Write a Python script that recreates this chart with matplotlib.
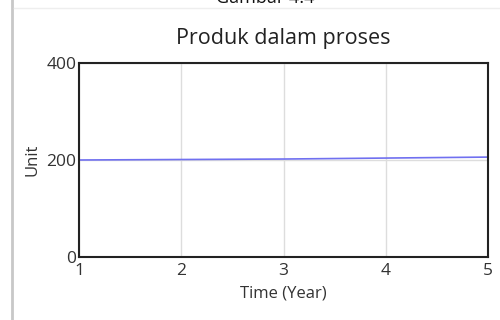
import matplotlib
matplotlib.use("Agg")
import matplotlib.pyplot as plt
from matplotlib.lines import Line2D

plt.rcParams['font.family'] = ['Open Sans', 'DejaVu Sans']

# data
years = [1, 2, 3, 4, 5]
produk = [200, 201, 202, 204, 206]
xticks = [1, 2, 3, 4, 5]
yticks = [0, 200, 400]

fig = plt.figure(figsize=(5, 3.2), dpi=100)
ax = fig.add_axes([79/500, 1 - 257/320, (488-79)/500, (257-63)/320])

ax.plot(years, produk, color="#7070f0", lw=1.2)

ax.set_xlim(1, 5)
ax.set_ylim(0, 400)
ax.set_xticks(xticks)
ax.set_yticks(yticks)
ax.grid(True, color="#dddddd", lw=1)
ax.set_axisbelow(True)
for s in ax.spines.values():
    s.set_color("#222222")
    s.set_linewidth(1.5)
ax.tick_params(length=0, labelsize=12.5, colors="#333333", pad=2)
ax.tick_params(axis="x", pad=4)

ax.set_title("Produk dalam proses", fontsize=15.5, color="#222222", pad=14)
ax.set_xlabel("Time (Year)", fontsize=12, color="#333333", labelpad=5)
ax.set_ylabel("Unit", fontsize=12, color="#333333", labelpad=4)

# page border remnants from the screenshot
fig.add_artist(Line2D([12/500, 12/500], [0, 1], color="#c8c8c8", lw=2))
fig.add_artist(Line2D([14/500, 1], [1 - 8/320, 1 - 8/320], color="#eeeeee", lw=1))
fig.text(0.53, 1.005, "Gambar 4.4", fontsize=13, ha="center", va="center", color="#111111")

fig.savefig("out.png", dpi=100)
